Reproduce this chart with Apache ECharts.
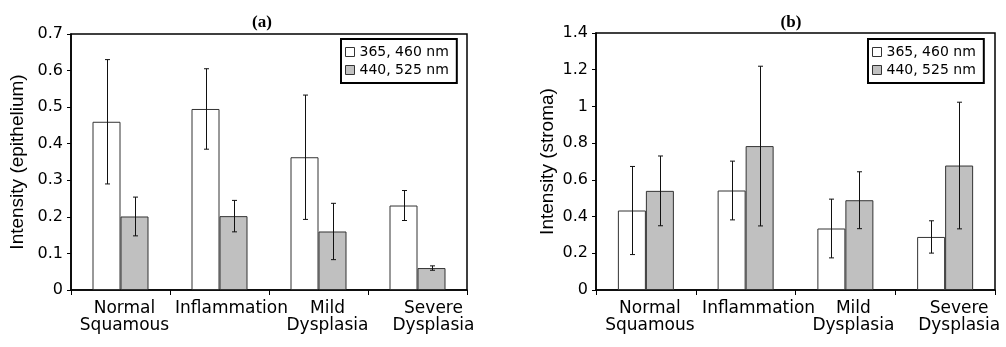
<!DOCTYPE html>
<html>
<head>
<meta charset="utf-8">
<script src="https://cdn.jsdelivr.net/npm/echarts@6/dist/echarts.min.js"></script>
<style>
  html, body { margin: 0; background: #fff; }
  #chart { width: 1006px; height: 347px; }
</style>
</head>
<body>
<div id="chart"></div>
<script>
// categories shared by both panels
const categories = ['Normal\nSquamous', 'Inflammation', 'Mild\nDysplasia', 'Severe\nDysplasia'];
const seriesNames = ['365, 460 nm', '440, 525 nm'];

// (a) epithelium: means and +/- error
const epi365 = [0.460, 0.495, 0.363, 0.231];
const epi365Err = [0.170, 0.110, 0.170, 0.041];
const epi440 = [0.201, 0.202, 0.160, 0.060];
const epi440Err = [0.053, 0.043, 0.077, 0.006];

// (b) stroma: means and +/- error
const str365 = [0.433, 0.542, 0.335, 0.289];
const str365Err = [0.240, 0.160, 0.160, 0.088];
const str440 = [0.540, 0.784, 0.489, 0.678];
const str440Err = [0.190, 0.435, 0.155, 0.345];

// y tick labels
const epiTicks = [0, 0.1, 0.2, 0.3, 0.4, 0.5, 0.6, 0.7];
const strTicks = [0, 0.2, 0.4, 0.6, 0.8, 1, 1.2, 1.4];

// ---- styling ----
const BAR_W = 28;
const SANS = 'DejaVu Sans';
// small horizontal nudges of the category labels (Excel offsets them)
const labelShift = [[4, 12, 9, 16], [4, 13, 8, 14]];

const chart = echarts.init(document.getElementById('chart'), null, { renderer: 'canvas' });

function xAxis(gridIndex) {
  const shifts = labelShift[gridIndex];
  const rich = {};
  shifts.forEach((s, i) => {
    rich['s' + i] = { padding: [0, 0, 0, s * 2], fontFamily: SANS, fontSize: 17, lineHeight: 17, color: '#000' };
  });
  return {
    type: 'category',
    gridIndex,
    data: categories,
    axisLine: { lineStyle: { color: '#000', width: 1.5 } },
    axisTick: { show: true, length: 5, lineStyle: { color: '#000' } },
    axisLabel: {
      margin: 10,
      interval: 0,
      formatter: (val, idx) => val.split('\n').map(l => '{s' + idx + '|' + l + '}').join('\n'),
      rich
    },
    splitLine: { show: false }
  };
}

function yAxis(gridIndex, ticks, name, nameGap) {
  return {
    type: 'value',
    gridIndex,
    min: ticks[0],
    max: ticks[ticks.length - 1],
    interval: ticks[1] - ticks[0],
    name,
    nameLocation: 'middle',
    nameGap,
    nameTextStyle: { fontFamily: 'Liberation Sans', fontSize: 19, color: '#000' },
    axisLine: { show: true, lineStyle: { color: '#000', width: 1.5 } },
    axisTick: { show: true, length: 4, lineStyle: { color: '#000' } },
    axisLabel: { margin: 8, fontFamily: SANS, fontSize: 16, color: '#000',
      formatter: v => String(+v.toFixed(2)) },
    splitLine: { show: false }
  };
}

function barSeries(idx, name, data, color) {
  return {
    type: 'bar',
    name,
    xAxisIndex: idx,
    yAxisIndex: idx,
    data,
    barWidth: BAR_W,
    barGap: '0%',
    itemStyle: { color, borderColor: '#333', borderWidth: 1 },
    emphasis: { disabled: true }
  };
}

function errorSeries(idx, vals, errs, side) {
  return {
    type: 'custom',
    xAxisIndex: idx,
    yAxisIndex: idx,
    silent: true,
    z: 10,
    data: vals.map((v, i) => [i, v - errs[i], v + errs[i]]),
    encode: { x: 0, y: [1, 2] },
    renderItem: (params, api) => {
      const lo = api.coord([api.value(0), api.value(1)]);
      const hi = api.coord([api.value(0), api.value(2)]);
      const x = Math.round(lo[0] + side * BAR_W / 2) + 0.5;
      const cap = 2.5;
      const style = { stroke: '#111', lineWidth: 1 };
      return {
        type: 'group',
        children: [
          { type: 'line', shape: { x1: x, y1: lo[1], x2: x, y2: hi[1] }, style },
          { type: 'line', shape: { x1: x - cap, y1: lo[1], x2: x + cap, y2: lo[1] }, style },
          { type: 'line', shape: { x1: x - cap, y1: hi[1], x2: x + cap, y2: hi[1] }, style }
        ]
      };
    }
  };
}

function legend(left, top) {
  return {
    left, top,
    orient: 'vertical',
    data: seriesNames,
    selectedMode: false,
    icon: 'rect',
    itemWidth: 9,
    itemHeight: 9,
    itemGap: 0,
    padding: [4, 8, 4, 4],
    borderColor: '#000',
    borderWidth: 2,
    backgroundColor: '#fff',
    itemStyle: { borderColor: '#333', borderWidth: 1 },
    textStyle: { fontFamily: SANS, fontSize: 14, lineHeight: 18, color: '#000' }
  };
}

const titleStyle = { fontFamily: 'Liberation Serif', fontSize: 17, fontWeight: 'bold', color: '#000' };

chart.setOption({
  animation: false,
  backgroundColor: '#fff',
  title: [
    { text: '(a)', left: 257, top: 9, textAlign: 'center', textStyle: titleStyle },
    { text: '(b)', left: 786, top: 9, textAlign: 'center', textStyle: titleStyle }
  ],
  legend: [legend(341, 39), legend(868, 39)],
  grid: [
    { left: 71, top: 34, width: 396, height: 256, show: true, borderColor: '#000', borderWidth: 1.5 },
    { left: 596, top: 33, width: 399, height: 257, show: true, borderColor: '#000', borderWidth: 1.5 }
  ],
  xAxis: [xAxis(0), xAxis(1)],
  yAxis: [
    yAxis(0, epiTicks, 'Intensity (epithelium)', 44),
    yAxis(1, strTicks, 'Intensity (stroma)', 39)
  ],
  series: [
    barSeries(0, seriesNames[0], epi365, '#ffffff'),
    barSeries(0, seriesNames[1], epi440, '#c0c0c0'),
    barSeries(1, seriesNames[0], str365, '#ffffff'),
    barSeries(1, seriesNames[1], str440, '#c0c0c0'),
    errorSeries(0, epi365, epi365Err, -1),
    errorSeries(0, epi440, epi440Err, 1),
    errorSeries(1, str365, str365Err, -1),
    errorSeries(1, str440, str440Err, 1)
  ]
});
</script>
</body>
</html>
